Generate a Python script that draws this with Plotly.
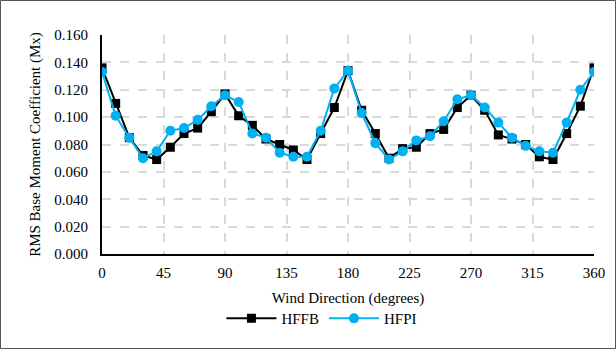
import plotly.graph_objects as go

directions = list(range(0, 361, 10))
hffb = [0.136, 0.110, 0.085, 0.072, 0.069, 0.078, 0.088, 0.092, 0.104, 0.117,
        0.101, 0.094, 0.084, 0.080, 0.076, 0.069, 0.088, 0.107, 0.134, 0.105,
        0.088, 0.070, 0.077, 0.078, 0.088, 0.091, 0.107, 0.116, 0.105, 0.087,
        0.084, 0.080, 0.071, 0.069, 0.088, 0.108, 0.136]
hfpi = [0.133, 0.101, 0.085, 0.070, 0.075, 0.090, 0.092, 0.098, 0.108, 0.116,
        0.111, 0.088, 0.085, 0.074, 0.071, 0.071, 0.090, 0.121, 0.134, 0.103,
        0.081, 0.069, 0.075, 0.083, 0.086, 0.097, 0.113, 0.116, 0.107, 0.096,
        0.085, 0.079, 0.075, 0.074, 0.096, 0.120, 0.133]
x_ticks = [0, 45, 90, 135, 180, 225, 270, 315, 360]
y_ticks = [0.0, 0.02, 0.04, 0.06, 0.08, 0.10, 0.12, 0.14, 0.16]

W, H = 616, 349
ml, mr, mt, mb = 102, 22, 35, 95
pw, ph = W - ml - mr, H - mt - mb

fig = go.Figure()
fig.add_trace(go.Scatter(x=directions, y=hffb, name="HFFB", mode="lines+markers",
                         line=dict(color="black", width=2),
                         marker=dict(symbol="square", size=9, color="black")))
fig.add_trace(go.Scatter(x=directions, y=hfpi, name="HFPI", mode="lines+markers",
                         line=dict(color="#00b0f0", width=2),
                         marker=dict(symbol="circle", size=10, color="#00b0f0")))

font = "Liberation Serif, Times New Roman, serif"
fig.update_layout(
    width=W, height=H,
    margin=dict(l=ml, r=mr, t=mt, b=mb, autoexpand=False),
    paper_bgcolor="white", plot_bgcolor="white",
    font=dict(family=font, size=15, color="black"),
    showlegend=True,
    legend=dict(orientation="h", x=0.447, xanchor="center", y=-0.295, yanchor="middle",
                font=dict(size=15), itemwidth=50, tracegroupgap=0),
    shapes=[dict(type="rect", xref="paper", yref="paper",
                 x0=-ml / pw + 0.5 / pw, x1=1 + mr / pw - 0.5 / pw,
                 y0=-mb / ph + 0.5 / ph, y1=1 + mt / ph - 0.5 / ph,
                 line=dict(color="#555", width=1), layer="below")],
)
fig.update_xaxes(range=[0, 360], tickvals=x_ticks, ticktext=[str(v) for v in x_ticks],
                 showgrid=True, gridcolor="#d9d9d9", griddash="dash", gridwidth=1.5,
                 showline=True, linecolor="black", linewidth=2, zeroline=False,
                 ticks="", ticklabelstandoff=4,
                 title=dict(text="Wind Direction (degrees)", font=dict(size=15), standoff=12))
fig.update_yaxes(range=[0, 0.16], tickvals=y_ticks, tickformat=".3f",
                 showgrid=True, gridcolor="#d9d9d9", griddash="dash", gridwidth=1.5,
                 showline=True, linecolor="black", linewidth=2, zeroline=False,
                 ticks="", ticklabelstandoff=9,
                 title=dict(text="RMS Base Moment Coefficient (Mx)", font=dict(size=15), standoff=10))

fig.write_html("out.html", post_script="document.body.style.margin='0';",
               config={"displayModeBar": False})
